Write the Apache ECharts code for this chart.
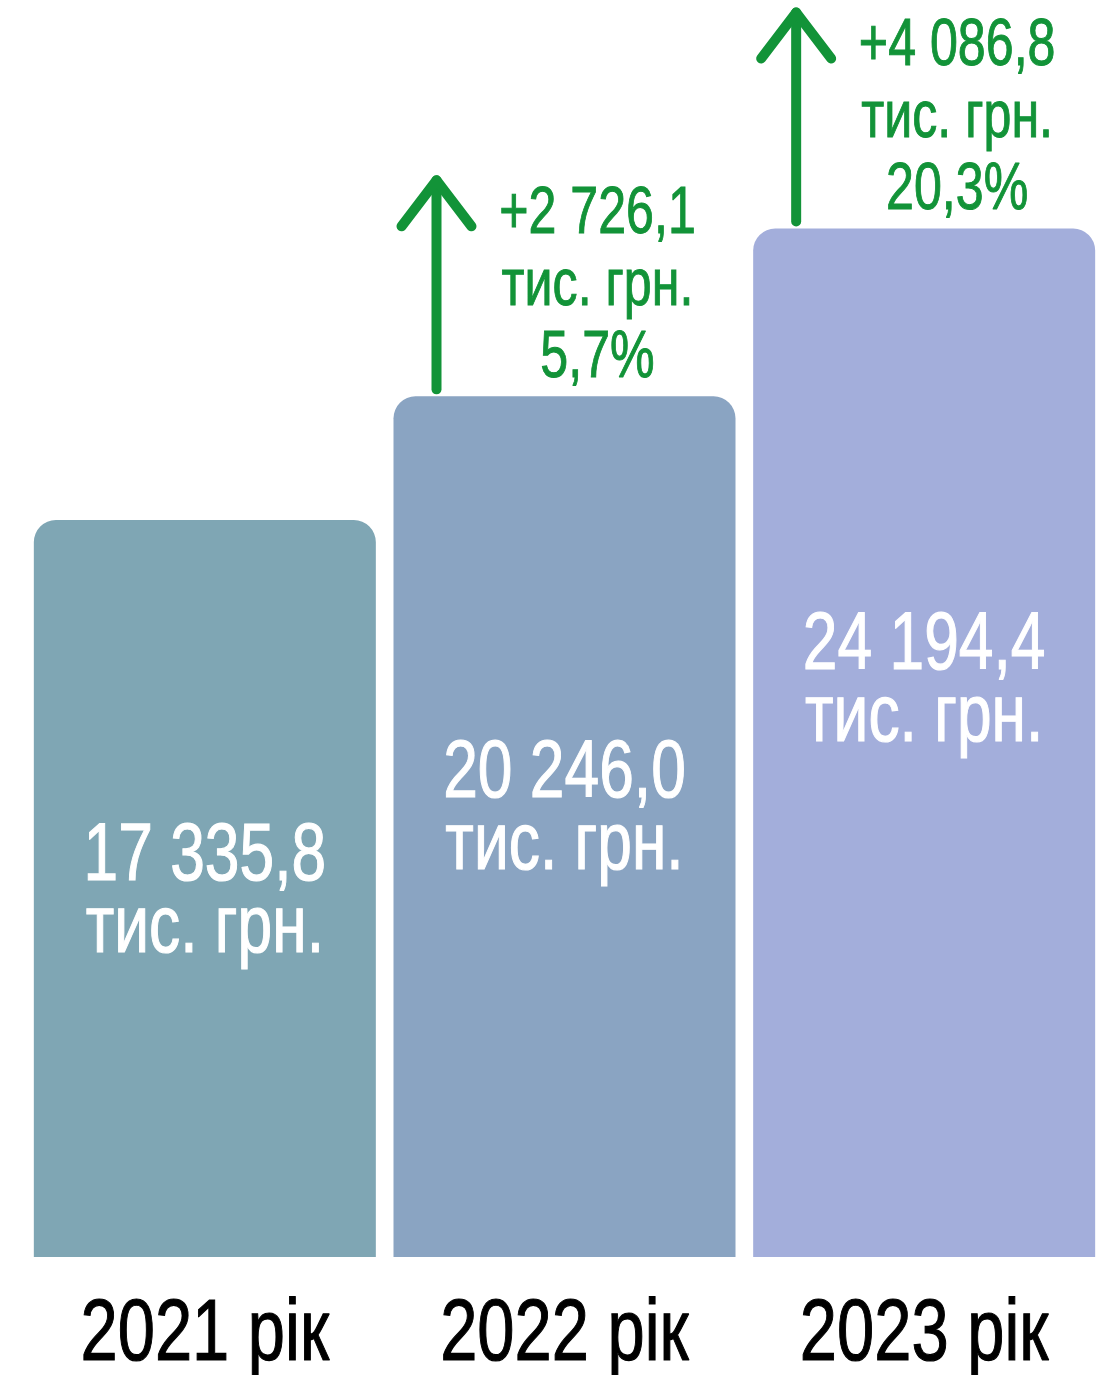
<!DOCTYPE html>
<html>
<head>
    <meta charset="utf-8">
    <title>Доходи</title>
    <script src="https://cdn.jsdelivr.net/npm/echarts@6/dist/echarts.min.js"></script>
    <style>
        html, body { margin: 0; padding: 0; background: #fff; }
    </style>
</head>
<body>
<!-- chart container -->
<div id="chart1" style="width:1116px;height:1375px;"></div>

<script type="text/javascript">
    // data
    let years = ['2021 рік', '2022 рік', '2023 рік'];
    let totals = [17335.8, 20246.0, 24194.4];
    let totalLabels = ['17 335,8', '20 246,0', '24 194,4'];
    let growthLabels = ['', '+2 726,1', '+4 086,8'];
    let growthPct = ['', '5,7%', '20,3%'];

    let barColors = ['#7fa6b4', '#8aa4c2', '#a3aedb'];
    let green = '#129338';
    let font = '"Liberation Sans", Arial, sans-serif';
    // no condensed font installed, so text is squeezed horizontally
    let squeeze = 0.76;
    // label nudges inside the bars (px)
    let innerShift = [5, -16, -60];

    let myChart1 = echarts.init(document.getElementById('chart1'));

    let barData = totals.map(function (v, i) {
        return { value: v, itemStyle: { color: barColors[i] } };
    });

    let labelData = totals.map(function (v, i) { return [i, v]; });

    let arrowData = [];
    totals.forEach(function (v, i) {
        if (growthLabels[i]) arrowData.push([i, v, growthLabels[i], growthPct[i]]);
    });

    function renderInner(params, api) {
        let i = params.dataIndex;
        let top = api.coord([api.value(0), api.value(1)]);
        let base = api.coord([api.value(0), 0]);
        return {
            type: 'text',
            x: top[0],
            y: (top[1] + base[1]) / 2 + innerShift[i],
            scaleX: squeeze,
            style: {
                text: totalLabels[i] + '\nтис. грн.',
                fill: '#fff',
                stroke: '#fff',
                lineWidth: 1.2,
                font: '82px ' + font,
                lineHeight: 72,
                align: 'center',
                verticalAlign: 'middle',
                shadowColor: 'rgba(0,0,0,0.4)',
                shadowBlur: 8,
                shadowOffsetX: 3,
                shadowOffsetY: 3
            }
        };
    }

    function renderYear(params, api) {
        let p = api.coord([api.value(0), 0]);
        return {
            type: 'text',
            x: p[0],
            y: p[1] + 79,
            scaleX: squeeze,
            style: {
                text: years[params.dataIndex],
                fill: '#000',
                stroke: '#000',
                lineWidth: 1.2,
                font: '88px ' + font,
                align: 'center',
                verticalAlign: 'middle'
            }
        };
    }

    function renderArrow(params, api) {
        let p = api.coord([api.value(0), api.value(1)]);
        let ax = p[0] - 128;
        let bottom = p[1] - 7;
        let tip = p[1] - 216;
        let item = arrowData[params.dataIndex];
        let lineStyle = {
            stroke: green, lineWidth: 10, fill: null,
            lineCap: 'round', lineJoin: 'round'
        };
        return {
            type: 'group',
            children: [
                { type: 'polyline', shape: { points: [[ax, bottom], [ax, tip]] }, style: lineStyle },
                { type: 'polyline', shape: { points: [[ax - 35, tip + 46], [ax, tip], [ax + 35, tip + 46]] }, style: lineStyle },
                {
                    type: 'text',
                    x: p[0] + 33,
                    y: p[1] - 2,
                    scaleX: squeeze,
                    style: {
                        text: item[2] + '\nтис. грн.\n' + item[3],
                        fill: green,
                        stroke: green,
                        lineWidth: 1,
                        font: '66px ' + font,
                        lineHeight: 72,
                        align: 'center',
                        verticalAlign: 'bottom'
                    }
                }
            ]
        };
    }

    myChart1.setOption({
        animation: false,
        grid: { left: 25, right: 12, top: 0, bottom: 118 },
        xAxis: {
            type: 'category',
            data: years,
            axisLine: { show: false },
            axisTick: { show: false },
            axisLabel: { show: false }
        },
        yAxis: {
            type: 'value',
            min: 0,
            max: 29570,
            show: false,
            splitLine: { show: false }
        },
        series: [{
            name: 'Доходи',
            type: 'bar',
            barWidth: 342,
            data: barData,
            itemStyle: { borderRadius: [22, 22, 0, 0] }
        }, {
            name: 'Підписи',
            type: 'custom',
            renderItem: renderInner,
            data: labelData,
            z: 4
        }, {
            name: 'Роки',
            type: 'custom',
            renderItem: renderYear,
            data: labelData,
            z: 4
        }, {
            name: 'Приріст',
            type: 'custom',
            renderItem: renderArrow,
            data: arrowData,
            z: 5
        }]
    });
</script>
</body>
</html>
